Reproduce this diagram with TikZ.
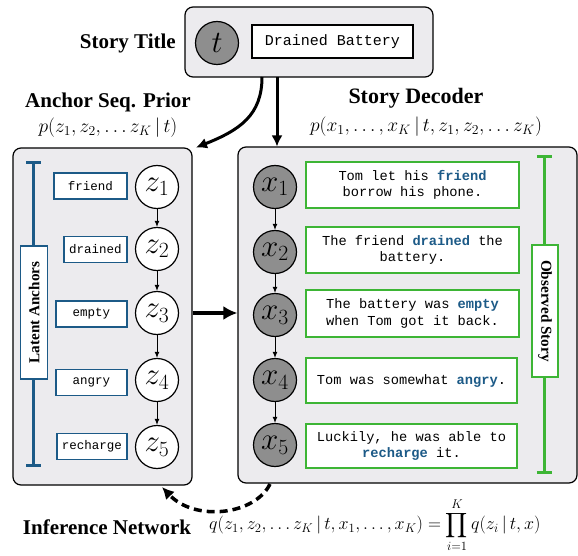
\RequirePackage{fix-cm}
\documentclass[tikz,border=0pt]{standalone}
\usepackage{exscale}
\usepackage{fontspec}
\setmainfont{Liberation Serif}
\setmonofont{Liberation Mono}
\usetikzlibrary{arrows.meta,calc}
\definecolor{panelgray}{HTML}{ECEBEE}
\definecolor{ablue}{HTML}{1C5A87}
\definecolor{sgreen}{HTML}{3DB535}
\definecolor{nodegray}{HTML}{8E8E8E}
\newcommand{\hl}[1]{\textcolor{ablue}{\textbf{#1}}}
\begin{document}
\begin{tikzpicture}[x=1pt,y=-1pt,
  panel/.style={draw=black, line width=1.2pt, fill=panelgray, rounded corners=8pt},
  obsnode/.style={circle, draw=black, line width=1.2pt, fill=nodegray, minimum size=43pt, inner sep=0pt, font=\fontsize{31}{33}\selectfont},
  latnode/.style={circle, draw=black, line width=1.2pt, fill=white, minimum size=43pt, inner sep=0pt, font=\fontsize{31}{33}\selectfont},
  anchorbox/.style={draw=ablue, line width=1.3pt, fill=white, minimum height=26pt, inner sep=0pt, font=\fontsize{12.5}{14}\ttfamily},
  storybox/.style={draw=sgreen, line width=1.4pt, fill=white, minimum height=46pt, minimum width=213pt, inner sep=0pt, align=center, font=\fontsize{13.7}{16.5}\ttfamily},
  sidelabel/.style={draw=#1, line width=1.3pt, fill=white, minimum width=133pt, minimum height=27pt, inner sep=0pt, font=\fontsize{15.2}{17}\bfseries},
  headlabel/.style={font=\fontsize{21}{24}\bfseries},
  formula/.style={font=\fontsize{19.5}{24}\selectfont},
  thin/.style={line width=1pt, -{Latex[length=6pt,width=5pt]}},
  thick/.style={line width=3pt, -{Latex[length=11pt,width=11pt]}},
  ibeam/.style={line width=3pt, draw=#1},
]
\useasboundingbox (0,0) rectangle (578,556);

% top box
\node[panel, minimum width=248pt, minimum height=70pt, inner sep=0pt] (top) at (309,42) {};
\node[obsnode] (t) at (217,43) {$t$};
\node[draw=black, line width=1.3pt, fill=white, minimum width=161pt, minimum height=33pt, inner sep=0pt, font=\fontsize{15}{17}\ttfamily] (title) at (332.5,41.5) {Drained Battery};
\node[headlabel, anchor=east, inner sep=0pt] (stitle) at (176,43) {Story Title};

% panels
\node[panel, minimum width=179pt, minimum height=337pt, inner sep=0pt] (left) at (102.5,316.5) {};
\node[panel, minimum width=339pt, minimum height=336pt, inner sep=0pt] (right) at (407.5,315) {};

% headings
\node[headlabel, inner sep=0pt] (aprior) at (108,102) {Anchor Seq. Prior};
\node[formula, inner sep=0pt] (pform) at (108,128) {$p(z_1, z_2, \ldots z_K\,|\,t)$};
\node[headlabel, inner sep=0pt, font=\fontsize{22}{24}\bfseries] (sdec) at (416,98) {Story Decoder};
\node[formula, inner sep=0pt] (dform) at (426,127) {$p(x_1, \ldots, x_K\,|\,t, z_1, z_2, \ldots z_K)$};

% latent nodes
\node[latnode] (z1) at (157,187) {$z_1$};
\node[latnode] (z2) at (157,249) {$z_2$};
\node[latnode] (z3) at (157,313) {$z_3$};
\node[latnode] (z4) at (157,380) {$z_4$};
\node[latnode] (z5) at (157,447) {$z_5$};
\foreach \a/\b in {z1/z2,z2/z3,z3/z4,z4/z5} \draw[thin] (\a) -- (\b);

% anchor word boxes
\node[anchorbox, minimum width=73pt] (w1) at (90.5,186) {friend};
\node[anchorbox, minimum width=63pt] (w2) at (95.5,249.5) {drained};
\node[anchorbox, minimum width=71pt] (w3) at (91.5,314) {empty};
\node[anchorbox, minimum width=71pt] (w4) at (91.5,382.5) {angry};
\node[anchorbox, minimum width=70pt] (w5) at (92,446.5) {recharge};

% latent anchors bar
\coordinate (lbT) at (33.7,163);
\coordinate (lbB) at (33.7,465);
\draw[ibeam=ablue] (lbT) -- (lbB);
\draw[ibeam=ablue] ($(lbT)+(-7.5,0)$) -- ($(lbT)+(7.5,0)$);
\draw[ibeam=ablue] ($(lbB)+(-7.5,0)$) -- ($(lbB)+(7.5,0)$);
\node[sidelabel=ablue, rotate=90] (latlab) at (34.3,312.5) {Latent Anchors};

% observed nodes
\node[obsnode] (x1) at (275,187) {$x_1$};
\node[obsnode] (x2) at (275,252) {$x_2$};
\node[obsnode] (x3) at (275,315) {$x_3$};
\node[obsnode] (x4) at (275,380) {$x_4$};
\node[obsnode] (x5) at (275,445) {$x_5$};
\foreach \a/\b in {x1/x2,x2/x3,x3/x4,x4/x5} \draw[thin] (\a) -- (\b);

% story boxes
\node[storybox] (s1) at (412.5,185) {Tom let his \hl{friend}\\borrow his phone.};
\node[storybox] (s2) at (412.5,250) {The friend \hl{drained} the\\battery.};
\node[storybox, minimum height=47pt] (s3) at (412.5,313.5) {The battery was \hl{empty}\\when Tom got it back.};
\node[storybox, minimum width=211pt, minimum height=45pt] (s4) at (411.5,380.5) {Tom was somewhat \hl{angry}.};
\node[storybox, minimum width=211pt, minimum height=44pt] (s5) at (411.5,446) {Luckily, he was able to\\\hl{recharge} it.};

% observed story bar
\coordinate (gbT) at (544.3,157);
\coordinate (gbB) at (544.3,472);
\draw[ibeam=sgreen] (gbT) -- (gbB);
\draw[ibeam=sgreen] ($(gbT)+(-7.5,0)$) -- ($(gbT)+(7.5,0)$);
\draw[ibeam=sgreen] ($(gbB)+(-7.5,0)$) -- ($(gbB)+(7.5,0)$);
\node[sidelabel=sgreen, rotate=-90, minimum width=132pt, minimum height=26pt] (obslab) at (545,311) {Observed Story};

% arrows from top
\coordinate (c1) at (262,77);
\coordinate (c2) at (277,77);
\coordinate (lt) at (196,147.5);
\coordinate (rt) at (277,146.5);
\draw[thick] (c1) .. controls (262,115) and (240,130) .. (lt);
\draw[thick] (c2) -- (rt);

% middle arrow
\draw[line width=3.5pt, -{Latex[length=14pt,width=14pt]}] (left.east |- z3) -- (right.west |- z3);

% inference arrow
\coordinate (ia) at (270,484);
\coordinate (ib) at (162,487);
\draw[line width=3.5pt, dash pattern=on 8pt off 5pt, -{Latex[length=12pt,width=12pt]}] (ia) .. controls (255,515) and (195,522) .. (ib);

% inference label
\node[headlabel, inner sep=0pt] (inet) at (107,527) {Inference Network};
\node[anchor=west, inner sep=0pt, font=\fontsize{18}{22}\selectfont] (qform) at (209,525) {$q(z_1, z_2, \ldots z_K\,|\,t, x_1, \ldots, x_K) = \displaystyle\prod_{i=1}^{K} q(z_i\,|\,t, x)$};
\end{tikzpicture}
\end{document}
